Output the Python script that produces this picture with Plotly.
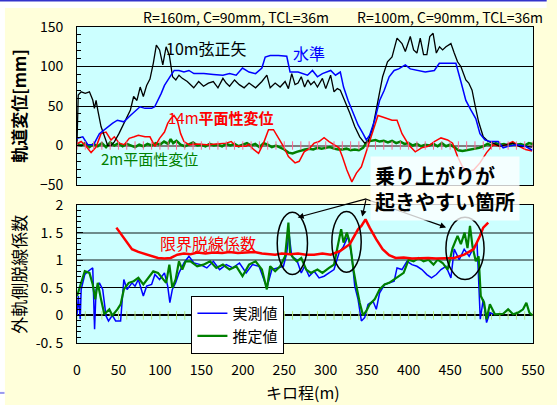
import plotly.graph_objects as go

# ---------------- data: upper chart (track irregularity, mm) ----------------
chord10_x = [0, 1.5, 5, 10, 15, 19, 21, 23, 25, 29, 33, 37, 41, 45, 50.6, 58.5, 64.4, 68.3, 72.3, 76.2, 80, 84, 88,
             92, 95.7, 99.6, 103.5, 107.5, 111.4, 115.3, 119.2, 123, 127, 133, 140.8, 146.7, 152.6, 158.5, 164.4,
             170, 176, 180, 184, 190, 195.7, 201.6, 207.5, 215.4, 223, 229, 233, 239, 245, 251, 255, 259, 263,
             266.6, 270.5, 274.5, 278.4, 282, 286, 290, 296, 300, 305.9, 310, 314, 317.6, 323, 329, 335, 341, 347,
             351, 357, 363, 368.6, 374.5, 380, 386, 392, 396, 402, 406, 410, 414, 418, 422, 425.5, 429.5, 433.4,
             437.3, 441, 445, 451, 455, 459, 463, 469, 472.5, 476.5, 480.5, 484.4, 490, 496, 502, 510, 518, 525.6,
             533.5, 541, 549]
chord10_y = [2, 64, 68, 66, 68, 57.6, 47, 57, 45, 24, 12, 0, 0, 4.6, 15, 32, 45, 62, 57, 74, 62, 76, 84,
             104, 127, 121, 102, 125, 114, 87, 83, 89, 85, 81, 73, 81, 75, 79, 81,
             73, 85, 79, 75, 83, 77, 73, 79, 73, 81, 89, 73, 79, 74, 81, 72, 91, 77,
             79, 87, 74, 83, 77, 81, 74, 85, 72, 89, 68, 72, 70, 57, 41, 24, 11, 3,
             5, 24, 57, 87, 106, 112, 136, 129, 119, 138, 121, 117, 136, 115, 115, 138, 142, 117,
             125, 121, 125, 129, 117, 106, 100, 83, 79, 70, 49, 30, 11, 5, 3, -1, 1, 3,
             -1, -1, -2]

level_x = [0, 7, 13, 20, 27, 35, 42.7, 48.7, 56.5, 64.4, 70.3, 76, 82, 90, 93.7, 97.7, 101.6, 105.5, 109.4, 113.4,
           117.3, 123, 129, 135, 141, 153, 164.5, 176, 184, 192, 199.6, 207.5, 215.4, 223, 227, 233, 243, 253, 257,
           266.6, 278, 284, 290, 296, 306, 311.8, 317.6, 321.5, 327, 333, 339, 345, 349, 353, 359, 365, 370.6, 376.5,
           382.5, 388, 396, 402, 410, 420, 431, 437, 445, 453, 457, 463, 469, 475, 481, 486, 492, 498, 508, 514,
           520, 529.5, 541, 549]
level_y = [9, 11, 1, 1, 15, 22, 28, 32, 30, 38, 43, 49, 47, 47, 49, 57, 66, 76, 83, 89,
           95, 95, 93, 95, 91, 91, 90, 89, 91, 89, 98, 93, 91, 98, 112, 114, 114, 113, 93,
           93, 89, 95, 87, 91, 95, 89, 93, 74, 57, 41, 26, 15, 7, 13, 32, 57, 70, 87,
           95, 97, 102, 97, 95, 93, 95, 104, 104, 104, 104, 81, 57, 45, 34, 15, 7, 5, 5, -3,
           -1, 1, -1, -6]

twist14_x = [0, 5, 11, 17, 23, 29, 35, 41, 45, 51, 57, 63, 69, 74, 82, 88, 94, 99.6, 105.5, 109.4, 113, 117, 121,
             125, 129, 135, 145, 156.6, 168, 180, 186, 192, 204, 207, 213, 219, 225, 231, 237, 241, 245, 249, 255,
             263, 268, 274, 280, 286, 292, 298, 304, 310, 316, 320, 325.5, 331.5, 337, 343, 347, 353, 359, 363,
             368.6, 374.5, 380, 386, 392, 400, 408, 415.6, 423.5, 431, 439, 447, 453, 459, 465, 470.6, 478.4, 486,
             494, 502, 510, 518, 525.6, 533.5, 541, 549]
twist14_y = [2, 5, -1, -9, -2, 15, 17, 7, 11, 3, 1, 9, 11, 13, 11, 11, -1, 9, 17, 28, 34, 38, 32,
             15, 5, 1, 2, 1, 2, 3, 5, -1, -1, 1.5, -5, -10, 3, 20, 20, 13, 7, -1, -14,
             -22, -20, -8, -4, 3, 5, 10, 5, 1, -3, -14, -31, -46, -35, -27, -14, 7, 28, 38,
             36, 34, 32, 32, 15, 1, -8, -3, -1, 5, 9.6, 7, 3, -14, -27, -33, -31, -22,
             -9, 1, -1, 1, 5, -1, -5, -7]

twist2_x = [0, 5, 10, 15, 20, 25, 30, 35, 40, 45, 50, 55, 60, 65, 70, 75, 80, 85, 90, 95, 100, 105, 110, 113, 116,
            120, 125, 130, 135, 140, 145, 150, 155, 160, 165, 170, 175, 180, 185, 190, 195, 200, 205, 210, 215, 220,
            225, 230, 235, 240, 245, 250, 255, 260, 265, 270, 275, 280, 285, 290, 295, 300, 305, 310, 315, 320, 325,
            330, 335, 340, 345, 350, 355, 360, 365, 370, 375, 380, 385, 390, 395, 400, 405, 410, 415, 420, 425, 430,
            435, 440, 445, 450, 455, 460, 465, 470, 475, 480, 485, 490, 495, 500, 505, 510, 515, 520, 525, 530, 535,
            540, 545, 550]
twist2_y = [2, 0, 3, -2, 2, -1, 3, -2, 4, 0, 3, -1, 2, 0, -2, 1, -1, 2, 0, 3, 1, 5, 2, 8, 3,
            6, 1, -1, 2, 4, 0, 1, -1, 2, 0, 1, -1, 2, 0, 2, -1, 1, 3, 0, 2, -2,
            3, 1, -2, 0, -2, -5, -9, -10, -8, -6, -5, -4, -5, -3, -4, -3, -2, -4, -5, -5, -4,
            -6, -5, -6, -3, 5, 6, 7, 5, 6, 4, 6, 3, 5, 2, 3, 0, 2, -1, 1, 0, 2,
            -1, 3, -1, 1, -2, -6, -7, -6, -5, -4, -3, -1, 2, 0, 3, 1, 2, 0, 3, 1, 2,
            0, 3, 2]

# ---------------- data: lower chart (derailment coefficient) ----------------
limit_x = [47.5, 54.5, 60.4, 66.3, 74, 82, 90, 97.7, 105.5, 113, 121, 129, 137, 145, 155, 164.5, 175, 184, 194, 204,
           214, 223, 239, 247, 257, 266.6, 276, 286, 296, 306, 317.6, 329, 339, 343, 348, 353, 360.8, 368.6, 376.5,
           384.4, 394, 404, 414, 423.5, 433, 443, 455, 467, 478.4, 486, 490, 496]
limit_y = [1.59, 1.44, 1.32, 1.2, 1.15, 1.11, 1.08, 1.04, 1.03, 1.04, 1.1, 1.12, 1.11, 1.14, 1.12, 1.14, 1.13, 1.15,
           1.13, 1.14, 1.15, 1.12, 1.1, 1.12, 1.11, 1.12, 1.1, 1.1, 1.12, 1.1, 1.17, 1.29, 1.56, 1.62, 1.74, 1.59,
           1.38, 1.2, 1.09, 1.04, 1.05, 1.03, 1.04, 1.04, 1.03, 1.03, 1.04, 1.1, 1.2, 1.44, 1.59, 1.68]

meas_x = [0, 1.6, 3.9, 5, 9.4, 13.4, 19, 21.2, 23, 27, 31, 35, 38, 42.7, 46.6, 52.6, 56.5, 60.4, 66.3, 70, 74, 80,
          84, 90, 94, 99.6, 105.5, 109.4, 112, 115, 119, 123, 129, 135, 141, 148.7, 156.6, 164.5, 172, 180, 188,
          196, 204, 211.6, 219.6, 227, 229, 235, 243, 249, 253, 255.6, 259, 265, 270.5, 274.5, 280, 286, 292,
          298, 304, 310, 316, 321.5, 327, 331.5, 335, 339, 343, 347, 351, 357, 361, 365, 371, 376.5, 382.5, 386,
          392, 398, 404, 410, 416, 422, 427.6, 433.4, 439, 445, 451, 455, 461, 467, 473, 479, 482.5, 484.4,
          486.4, 490, 494, 498, 502]
meas_y = [0.0, 0.35, -0.07, 0.47, 0.74, 0.8, 0.86, -0.25, 0.47, 0.59, 0.47, -0.01, -0.1, 0, -0.1, -0.1, 0.65,
          0.47, 0.59, 0.53, 0.65, 0.35, 0.53, 0.56, 0.74, 0.65, 0.77, 0.53, 0.23, 0.47, 0.59, 0.77, 0.95, 1.07,
          0.95, 0.92, 0.86, 0.98, 0.83, 0.92, 0.86, 0.95, 0.77, 0.92, 0.89, 0.59, 0.5, 0.83, 0.86, 0.89, 1.13,
          1.5, 1.07, 1.01, 0.77, 0.89, 0.71, 0.8, 0.68, 0.71, 0.77, 0.83, 1.13, 1.25, 1.44, 1.07, 0.53, 0.29,
          -0.1, -0.04, 0.2, 0.26, 0.11, 0.41, 0.56, 0.59, 0.62, 0.86, 0.83, 0.98, 0.92, 0.89, 0.83, 0.74, 0.68,
          0.74, 0.83, 0.89, 0.68, 1.2, 1.01, 1.2, 1.07, 1.25, 1.31, 0.65, -0.07, 0.29, -0.13, 0.05, 0.02]

est_x = [0, 5, 9.4, 15, 19, 22, 25, 29, 33, 39, 42.7, 48.7, 52.6, 56.5, 62.4, 68.3, 74, 80, 86, 92, 97.7, 103.5,
         107.5, 111.4, 115, 119, 123, 127, 131, 137, 145, 152.6, 160.5, 168, 176, 184, 192, 199.6, 207.5, 215.4,
         223, 229, 233, 239, 245, 251, 255, 257, 261, 265, 270.5, 276.5, 282, 290, 296, 304, 310, 314, 318.6,
         321.5, 325.5, 329.5, 333.4, 337, 341, 345, 349, 353, 359, 365, 371, 376.5, 382.5, 388, 394, 400, 406,
         412, 418, 424, 430, 435, 441, 447, 453, 459, 463, 467.5, 471, 474, 477, 481, 484.4, 487, 491, 494, 498,
         504, 514, 520, 526, 532, 538, 542, 545.6, 549]
est_y = [0.35, 0.59, 0.8, 0.77, 0.56, 0.29, 0.59, 0.29, 0.02, 0.11, 0, 0.11, 0.2, 0.47, 0.59, 0.62, 0.68, 0.56,
         0.68, 0.8, 0.77, 0.65, 0.59, 0.92, 0.5, 0.65, 0.98, 0.83, 0.98, 0.98, 0.89, 0.92, 0.98, 0.86, 0.92, 0.83,
         0.89, 0.71, 0.92, 0.98, 0.83, 0.47, 0.89, 0.8, 0.89, 1.07, 1.68, 1.13, 1.04, 0.98, 1.04, 0.83, 0.77, 0.83,
         0.77, 0.86, 0.92, 1.22, 1.56, 1.32, 1.5, 1.29, 0.83, 0.53, 0.23, 0, 0.08, 0.2, 0.29, 0.47, 0.56, 0.59,
         0.65, 0.71, 0.77, 1.01, 0.98, 1.04, 0.98, 1.01, 0.92, 1.01, 0.95, 0.83, 1.22, 1.44, 1.29, 1.5, 1.22, 1.62,
         1.25, 0.98, 1.07, 0.35, 0.23, -0.07, 0.2, 0.02, 0.03, 0.11, 0.02, 0.05, 0.11, 0.23, 0.05, 0]

# tick labels
x_ticks = [0, 50, 100, 150, 200, 250, 300, 350, 400, 450, 500, 550]
top_y_ticks = [-50, 0, 50, 100, 150]
bot_y_ticks = [-0.5, 0, 0.5, 1, 1.5, 2]
bot_y_text = ["-0. 5", "0", "0. 5", "1", "1. 5", "2"]
bot_black_grid = [0.5]
bot_grey_grid = [1, 1.5]
minor_x_marks = list(range(0, 551, 10))

FONT = "Noto Sans CJK JP"

fig = go.Figure()

# helper empty traces so that the overlay grid axes exist
fig.add_trace(go.Scatter(x=[], y=[], xaxis="x2", yaxis="y3", showlegend=False))
fig.add_trace(go.Scatter(x=[], y=[], xaxis="x2", yaxis="y4", showlegend=False))

# upper chart
fig.add_trace(go.Scatter(x=twist2_x, y=twist2_y, mode="lines", line=dict(color="#008000", width=2.5),
                         showlegend=False, xaxis="x", yaxis="y"))
fig.add_trace(go.Scatter(x=twist14_x, y=twist14_y, mode="lines", line=dict(color="#FF0000", width=1.5),
                         showlegend=False, xaxis="x", yaxis="y"))
fig.add_trace(go.Scatter(x=chord10_x, y=chord10_y, mode="lines", line=dict(color="#000000", width=1.3),
                         showlegend=False, xaxis="x", yaxis="y"))
fig.add_trace(go.Scatter(x=level_x, y=level_y, mode="lines", line=dict(color="#0000FF", width=1.5),
                         showlegend=False, xaxis="x", yaxis="y"))
fig.add_trace(go.Scatter(x=minor_x_marks, y=[0] * len(minor_x_marks), mode="markers",
                         marker=dict(symbol="line-ns-open", size=6, line=dict(color="#808080", width=1)),
                         showlegend=False, hoverinfo="skip", xaxis="x", yaxis="y"))

# lower chart
fig.add_trace(go.Scatter(x=minor_x_marks, y=[0] * len(minor_x_marks), mode="markers",
                         marker=dict(symbol="line-ns-open", size=6, line=dict(color="#000000", width=1)),
                         showlegend=False, hoverinfo="skip", xaxis="x2", yaxis="y2"))
fig.add_trace(go.Scatter(x=meas_x, y=meas_y, mode="lines", name="実測値",
                         line=dict(color="#0000FF", width=1.5), xaxis="x2", yaxis="y2"))
fig.add_trace(go.Scatter(x=est_x, y=est_y, mode="lines", name="推定値",
                         line=dict(color="#008000", width=2.2), xaxis="x2", yaxis="y2"))
fig.add_trace(go.Scatter(x=limit_x, y=limit_y, mode="lines", line=dict(color="#FF0000", width=2.5),
                         showlegend=False, xaxis="x2", yaxis="y2"))

axis_common = dict(showline=True, linecolor="black", linewidth=1, mirror=True,
                   tickfont=dict(family=FONT, size=14, color="black"))
overlay_common = dict(overlaying="y2", anchor="x2", range=[-0.5, 2], showline=False, showticklabels=False,
                      ticks="", zeroline=False, showgrid=True)

fig.update_layout(
    width=557, height=405,
    margin=dict(l=77, r=13, t=27, b=62),
    paper_bgcolor="#FFFFDA",
    plot_bgcolor="#CCFFFF",
    font=dict(family=FONT, color="black"),
    xaxis=dict(domain=[0, 1], range=[0, 550], anchor="y", showticklabels=False, ticks="",
               showgrid=False, zeroline=False, **axis_common),
    yaxis=dict(domain=[0.5, 1], range=[-50, 150], anchor="x", tickvals=top_y_ticks,
               ticks="inside", ticklen=6, tickcolor="black",
               minor=dict(dtick=10, ticks="inside", ticklen=4, tickcolor="black", showgrid=False),
               showgrid=True, gridcolor="black", gridwidth=1,
               zeroline=True, zerolinecolor="#808080", zerolinewidth=2, ticklabelstandoff=10, **axis_common),
    xaxis2=dict(domain=[0, 1], range=[0, 550], anchor="y2", tickvals=x_ticks, ticks="",
                showgrid=False, zeroline=False, ticklabelstandoff=14, **axis_common),
    yaxis2=dict(domain=[0, 0.4367], range=[-0.5, 2], anchor="x2", tickvals=bot_y_ticks, ticktext=bot_y_text,
                ticks="inside", ticklen=6, tickcolor="black",
                minor=dict(dtick=0.1, ticks="inside", ticklen=4, tickcolor="black", showgrid=False),
                showgrid=False,
                zeroline=True, zerolinecolor="black", zerolinewidth=1.5, ticklabelstandoff=10, **axis_common),
    yaxis3=dict(tickvals=bot_black_grid, gridcolor="black", gridwidth=1, **overlay_common),
    yaxis4=dict(tickvals=bot_grey_grid, gridcolor="#6E8C8C", gridwidth=2, **overlay_common),
    legend=dict(x=0.2505, y=0.149, xanchor="left", yanchor="top", bgcolor="white",
                bordercolor="black", borderwidth=1.2, font=dict(family=FONT, size=15, color="black"),
                itemwidth=30, tracegroupgap=0),
)

shapes = [
    # white strips and blue rule of the slide
    dict(type="rect", xref="paper", yref="paper", x0=-0.17, x1=1.03, y0=1.0601, y1=1.09,
         fillcolor="white", line=dict(width=0), layer="below"),
    dict(type="rect", xref="paper", yref="paper", x0=-0.17, x1=-0.158, y0=-0.2, y1=1.09,
         fillcolor="white", line=dict(width=0), layer="below"),
    dict(type="line", xref="paper", yref="paper", x0=-0.17, x1=1.03, y0=1.0838, y1=1.0838,
         line=dict(color="#3333CC", width=2)),
    dict(type="line", xref="paper", yref="paper", x0=-0.17, x1=-0.159, y0=-0.158, y1=-0.158,
         line=dict(color="#9999EE", width=2)),
    # ellipses
    dict(type="circle", xref="x2", yref="y2", x0=241.5, x1=278, y0=0.74, y1=1.87,
         line=dict(color="black", width=1.5)),
    dict(type="circle", xref="x2", yref="y2", x0=307.4, x1=342.8, y0=0.78, y1=1.88,
         line=dict(color="black", width=1.5)),
    dict(type="circle", xref="x2", yref="y2", x0=445, x1=491, y0=0.65, y1=1.78,
         line=dict(color="black", width=1.5)),
]
fig.update_layout(shapes=shapes)

ann = []
ann.append(dict(text="R=160m, C=90mm, TCL=36m", xref="paper", yref="paper", x=0.348, y=1.0316,
                xanchor="center", yanchor="middle", showarrow=False, font=dict(family=FONT, size=14)))
ann.append(dict(text="R=100m, C=90mm, TCL=36m", xref="paper", yref="paper", x=0.817, y=1.0316,
                xanchor="center", yanchor="middle", showarrow=False, font=dict(family=FONT, size=14)))
ann.append(dict(text="10m弦正矢", xref="x", yref="y", x=156, y=123, showarrow=False,
                font=dict(family=FONT, size=16, color="black")))
ann.append(dict(text="水準", xref="x", yref="y", x=280, y=117, showarrow=False,
                font=dict(family=FONT, size=16, color="#0000FF")))
ann.append(dict(text="14m<b>平面性変位</b>", xref="x", yref="y", x=174, y=35, showarrow=False,
                font=dict(family=FONT, size=15, color="#FF0000")))
ann.append(dict(text="2m平面性変位", xref="x", yref="y", x=88, y=-16, showarrow=False,
                font=dict(family=FONT, size=15, color="#008000")))
ann.append(dict(text="限界脱線係数", xref="x2", yref="y2", x=158, y=1.32, showarrow=False,
                font=dict(family=FONT, size=16, color="#FF0000")))
# axis titles
ann.append(dict(text="<b>軌道変位[mm]</b>", xref="paper", yref="paper", x=-0.13, y=0.75,
                xanchor="center", yanchor="middle", textangle=-90, showarrow=False,
                font=dict(family=FONT, size=17)))
ann.append(dict(text="外軌側脱線係数", xref="paper", yref="paper", x=-0.13, y=0.218,
                xanchor="center", yanchor="middle", textangle=-90, showarrow=False,
                font=dict(family=FONT, size=17)))
ann.append(dict(text="キロ程(m)", xref="paper", yref="paper", x=0.495, y=-0.155,
                xanchor="center", yanchor="middle", showarrow=False, font=dict(family=FONT, size=16)))
# arrows
for hx, hy, ax, ay in [(266.2, 1.775, 70, -19), (344, 1.79, 4, -18), (445.2, 1.594, -82, -29)]:
    ann.append(dict(text="", xref="x2", yref="y2", x=hx, y=hy, ax=ax, ay=ay, showarrow=True,
                    arrowhead=2, arrowsize=1, arrowwidth=1.2, arrowcolor="black"))
ann.append(dict(text="<b>乗り上がりが<br>起きやすい箇所</b>", xref="paper", yref="paper", x=0.808, y=0.4905,
                xanchor="center", yanchor="middle", align="left", showarrow=False,
                bgcolor="rgba(255,255,255,0.78)", borderpad=4,
                font=dict(family=FONT, size=20, color="black")))
fig.update_layout(annotations=ann)

fig.write_html("out.html", config={"displayModeBar": False},
               post_script="document.body.style.margin='0';document.body.style.padding='0';")
